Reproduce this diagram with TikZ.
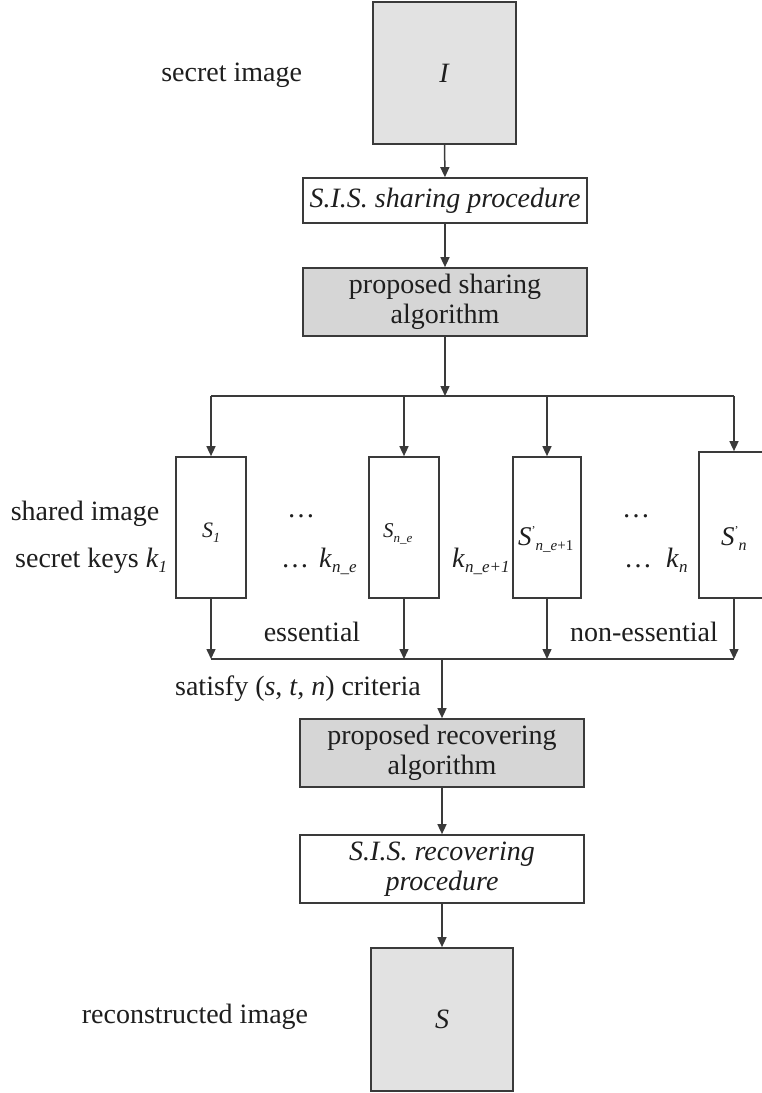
\documentclass[tikz,border=0pt]{standalone}
\usepackage{fontspec}
\setmainfont{Liberation Serif}
\usetikzlibrary{arrows.meta}
\definecolor{ln}{HTML}{3A3A3A}
\definecolor{fillA}{HTML}{E2E2E2}
\definecolor{fillB}{HTML}{D6D6D6}
\definecolor{txt}{HTML}{1E1E1E}
\newcommand\sbt[2][17]{\raisebox{-5pt}{\fontsize{#1}{#1}\selectfont #2}}
\newcommand\prm[1][11pt]{\raisebox{#1}{\fontsize{12}{12}\selectfont '}}
\begin{document}
\begin{tikzpicture}[x=1pt,y=-1pt,
  font=\fontsize{28}{30}\selectfont, text=txt,
  box/.style={draw=ln, line width=1.7pt, inner sep=0pt, align=center},
  arr/.style={draw=ln, line width=1.5pt, -{Triangle[length=10pt,width=9pt]}},
  conn/.style={draw=ln, line width=1.5pt},
  lbl/.style={inner sep=0pt}]
\useasboundingbox (0,0) rectangle (761,1093);

% main column
\node[box, fill=fillA, minimum width=143pt, minimum height=142pt] (I) at (444.5,73) {\textit{I}};
\node[box, fill=white, minimum width=284pt, minimum height=45pt] (sis1) at (445,200.5) {\textit{S.I.S. sharing procedure}};
\node[box, fill=fillB, minimum width=284pt, minimum height=68pt] (ps) at (445,302) {proposed sharing\\algorithm};

% shares
\node[box, minimum width=70pt, minimum height=141pt] (b1) at (211,527.5) {};
\node[box, minimum width=70pt, minimum height=141pt] (b2) at (404,527.5) {};
\node[box, minimum width=68pt, minimum height=141pt] (b3) at (547,527.5) {};
\node[box, minimum width=70pt, minimum height=146pt] (b4) at (734,525) {};

\node[lbl, anchor=base west] (l1) at (202,537) {\fontsize{22}{22}\selectfont\textit{S}\sbt[14]{\textit{1}}};
\node[lbl, anchor=base west] (l2) at (383,537) {\fontsize{21}{21}\selectfont\textit{S}\sbt[13]{\textit{n\_e}}};
\node[lbl, anchor=base west] (l3) at (518,545) {\fontsize{27}{27}\selectfont\textit{S}\prm\sbt[15]{\textit{n\_e}+1}};
\node[lbl, anchor=base west] (l4) at (721,545) {\fontsize{27}{27}\selectfont\textit{S}\prm\sbt[16]{\textit{n}}};

% side texts
\node[lbl] (tsecret) at (231.7,75) {secret image};
\node[lbl, anchor=base] (tshared) at (85,520) {shared image};
\node[lbl, anchor=base west] (tkeys) at (15,567) {secret keys \textit{k}\sbt{\textit{1}}};
\node[lbl, anchor=base] (dots1) at (301,517) {…};
\node[lbl, anchor=base west] (kne) at (281,567) {…\hspace{10pt}\textit{k}\sbt{\textit{n\_e}}};
\node[lbl, anchor=base west] (kne1) at (452,567) {\textit{k}\sbt{\textit{n\_e+1}}};
\node[lbl, anchor=base] (dots2) at (636,517) {…};
\node[lbl, anchor=base west] (kn) at (624,567) {…\hspace{14pt}\textit{k}\sbt{\textit{n}}};
\node[lbl] (tess) at (312,632) {essential};
\node[lbl] (tness) at (644,632) {non-essential};
\node[lbl] (tsat) at (298,689) {satisfy (\textit{s}, \textit{t}, \textit{n}) criteria};

% lower column
\node[box, fill=fillB, minimum width=284pt, minimum height=68pt] (pr) at (442,753) {proposed recovering\\algorithm};
\node[box, fill=white, minimum width=284pt, minimum height=68pt] (sis2) at (442,869) {\textit{S.I.S. recovering}\\\textit{procedure}};
\node[box, fill=fillA, minimum width=142pt, minimum height=143pt] (S) at (442,1019.5) {\textit{S}};
\node[lbl] (trec) at (195,1017) {reconstructed image};

% connectors
\coordinate (split) at (445,396);
\coordinate (join) at (442,659);
\draw[arr] (I.south) -- (sis1.north);
\draw[arr] (sis1.south) -- (ps.north);
\draw[arr] (ps.south) -- (split);
\draw[conn] (b1.north |- split) -- (b4.north |- split);
\foreach \b in {b1,b2,b3,b4} {
  \draw[arr] (\b.north |- split) -- (\b.north);
  \draw[arr] (\b.south) -- (\b.south |- join);
}
\draw[conn] (b1.south |- join) -- (b4.south |- join);
\draw[arr] (join) -- (pr.north);
\draw[arr] (pr.south) -- (sis2.north);
\draw[arr] (sis2.south) -- (S.north);
\end{tikzpicture}
\end{document}
